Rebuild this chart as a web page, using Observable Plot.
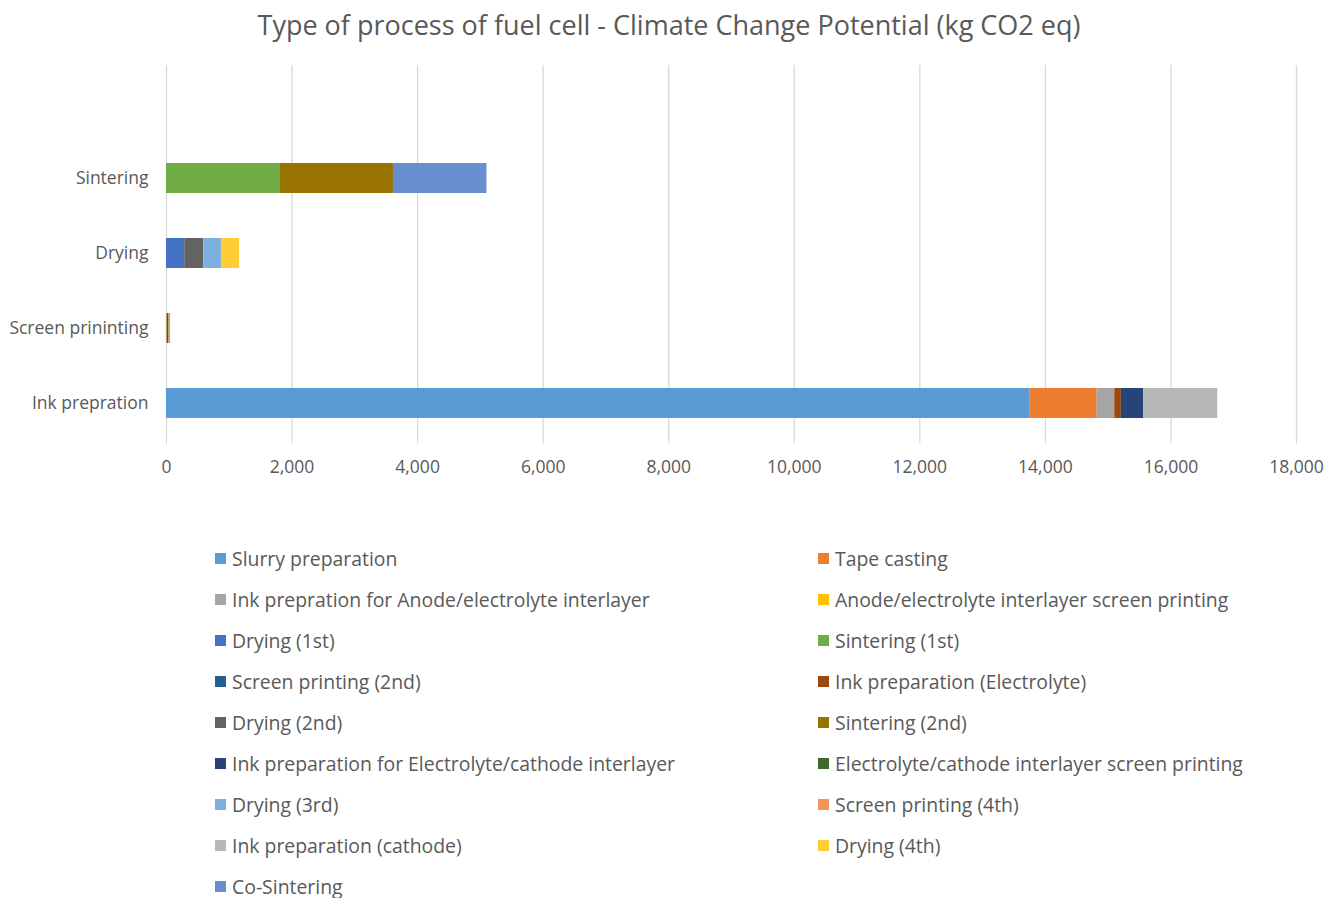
<!DOCTYPE html>
<html>
<head>
<meta charset="utf-8">
<script src="https://cdn.jsdelivr.net/npm/d3@7"></script>
<script src="https://cdn.jsdelivr.net/npm/@observablehq/plot@0.6"></script>
<style>
  body { margin: 0; background: #fff; font-family: "Open Sans", sans-serif; }
  #wrap { position: relative; width: 1338px; height: 898px; overflow: hidden; }
  #title { position: absolute; left: 0; width: 1338px; top: 6px; text-align: center; font-size: 27px; color: #595959; }
  #chart { position: absolute; left: 0; top: 0; }
  #legend { position: absolute; left: 215px; top: 544px; display: grid; grid-template-columns: 603px 520px; grid-auto-rows: 41px; font-size: 19.4px; color: #595959; }
  .item { display: flex; align-items: center; height: 28px; }
  .sw { width: 11px; height: 11px; margin-right: 6px; flex: none; }
</style>
</head>
<body>
<div id="wrap">
  <div id="chart"></div>
  <div id="title">Type of process of fuel cell - Climate Change Potential (kg CO2 eq)</div>
  <div id="legend"></div>
</div>
<script>
// Categories, top to bottom (first is an empty slot as in the original)
const categories = ["", "Sintering", "Drying", "Screen prininting", "Ink prepration"];
const xTicks = [0, 2000, 4000, 6000, 8000, 10000, 12000, 14000, 16000, 18000];

const seriesNames = [
  "Slurry preparation",
  "Tape casting",
  "Ink prepration for Anode/electrolyte interlayer",
  "Anode/electrolyte interlayer screen printing",
  "Drying (1st)",
  "Sintering (1st)",
  "Screen printing (2nd)",
  "Ink preparation (Electrolyte)",
  "Drying (2nd)",
  "Sintering (2nd)",
  "Ink preparation for Electrolyte/cathode interlayer",
  "Electrolyte/cathode interlayer screen printing",
  "Drying (3rd)",
  "Screen printing (4th)",
  "Ink preparation (cathode)",
  "Drying (4th)",
  "Co-Sintering"
];
const seriesProcess = [
  "Ink prepration", "Ink prepration", "Ink prepration", "Screen prininting",
  "Drying", "Sintering", "Screen prininting", "Ink prepration",
  "Drying", "Sintering", "Ink prepration", "Screen prininting",
  "Drying", "Screen prininting", "Ink prepration", "Drying", "Sintering"
];
const seriesValues = [
  13750, 1075, 280, 10,
  290, 1815, 22, 105,
  305, 1800, 355, 8,
  280, 25, 1180, 290, 1490
];
const seriesColors = [
  "#5B9BD5", "#ED7D31", "#A5A5A5", "#FFC000",
  "#4472C4", "#70AD47", "#255E91", "#9E480E",
  "#636363", "#997300", "#264478", "#43682B",
  "#7CAFDD", "#F1975A", "#B7B7B7", "#FFCD33", "#698ED0"
];

const data = seriesNames.map((name, i) => ({
  series: name, process: seriesProcess[i], value: seriesValues[i]
}));

const fmt = d3.format(",");

const plot = Plot.plot({
  width: 1338,
  height: 500,
  marginLeft: 166,
  marginRight: 42,
  marginTop: 65,
  marginBottom: 60,
  style: { fontFamily: "Open Sans, sans-serif", fontSize: "17.5px", color: "#595959", background: "transparent" },
  x: { domain: [0, 18000], label: null },
  y: { domain: categories, paddingInner: 0.6, paddingOuter: 0.3, label: null },
  color: { domain: seriesNames, range: seriesColors },
  marks: [
    Plot.gridX(xTicks, { stroke: "#d9d9d9", strokeOpacity: 1, strokeWidth: 1.3 }),
    Plot.barX(data, Plot.stackX({ y: "process", x: "value", fill: "series" })),
    Plot.axisX({ ticks: xTicks, tickFormat: fmt, tickSize: 4, stroke: "#d9d9d9", tickPadding: 16, fontSize: 17.5, fill: "#595959" }),
    Plot.axisY({ tickSize: 0, tickPadding: 18, fontSize: 17.5, fill: "#595959" })
  ]
});
document.getElementById("chart").appendChild(plot);

const legend = document.getElementById("legend");
seriesNames.forEach((name, i) => {
  const item = document.createElement("div");
  item.className = "item";
  const sw = document.createElement("span");
  sw.className = "sw";
  sw.style.background = seriesColors[i];
  const t = document.createElement("span");
  t.textContent = name;
  item.appendChild(sw);
  item.appendChild(t);
  legend.appendChild(item);
});
</script>
</body>
</html>
